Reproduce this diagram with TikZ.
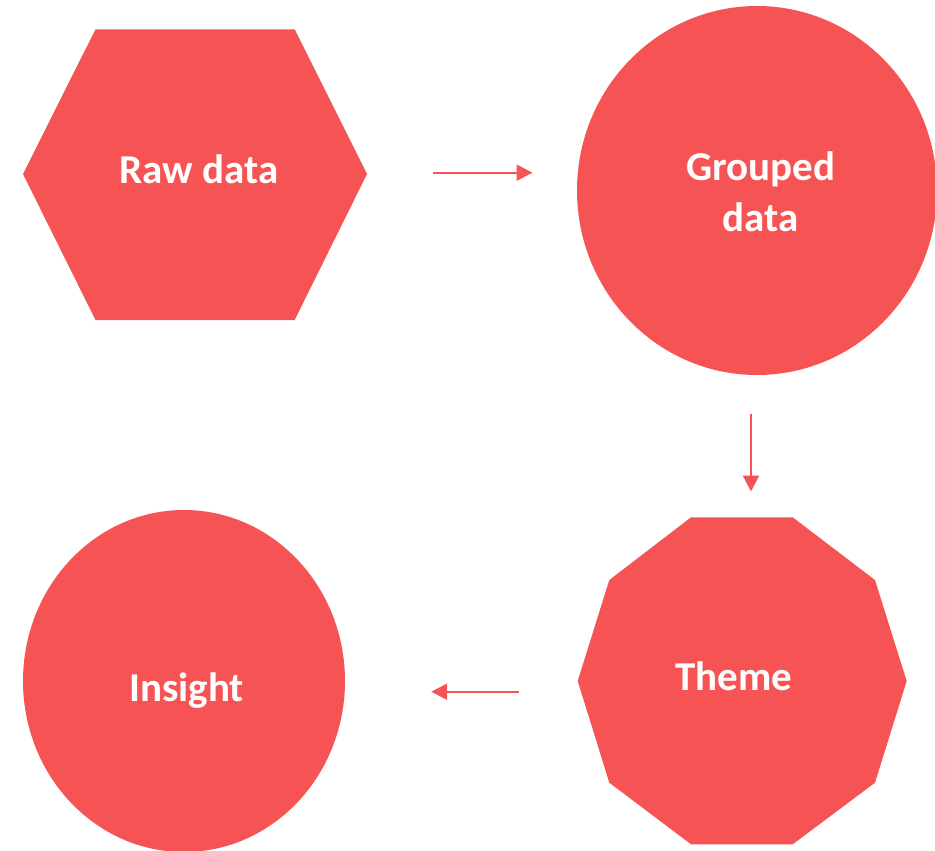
\documentclass[tikz,border=0pt]{standalone}
\usepackage{fontspec}
\setmainfont{Carlito}
\usetikzlibrary{arrows.meta,shapes.geometric}

\definecolor{coral}{HTML}{F65454}

\tikzset{
  shapefill/.style={fill=coral, draw=none},
  frame/.style={rectangle, draw=none, inner sep=0pt},
  blob/.style={ellipse, fill=coral, draw=none, inner sep=0pt},
  lbl/.style={text=white, font=\fontsize{41}{51.5}\selectfont\bfseries, inner sep=0pt, align=center},
  flow/.style={draw=coral, line width=2.3pt, -{Triangle[length=16pt,width=16pt]}},
}

\begin{document}
\begin{tikzpicture}[x=1pt, y=-1pt]
  \useasboundingbox (0,0) rectangle (935,851);

  % hexagon
  \fill[shapefill] (23,174) -- (95.5,29.3) -- (294.7,29.3) -- (367,174)
        -- (294.7,320) -- (95.5,320) -- cycle;
  \node[frame, minimum width=344pt, minimum height=291pt] (raw) at (195,174.5) {};
  \node[lbl, anchor=base] (rawt) at (199,183.3) {Raw data};

  % circle
  \node[blob, minimum width=360pt, minimum height=369pt] (grp) at (757,190.5) {};
  \node[lbl, anchor=base] (grpt) at (760.8,231.7) {Grouped\\data};

  % decagon
  \fill[shapefill] (691,517.3) -- (792.7,517.3) -- (875,580) -- (906.7,681)
        -- (875,782.7) -- (792.7,844.3) -- (691,844.3) -- (609.3,782.7)
        -- (577.7,681) -- (609.3,580) -- cycle;
  \node[frame, minimum width=329pt, minimum height=327pt] (theme) at (742.2,680.8) {};
  \node[lbl, anchor=base] (themet) at (733.8,690) {Theme};

  % ellipse
  \node[blob, minimum width=322pt, minimum height=342pt] (ins) at (184,681) {};
  \node[lbl, anchor=base] (inst) at (186.7,701.7) {Insight};

  % connectors
  \draw[flow, shorten <=65.7pt, shorten >=44.3pt]
    ([yshift=1.8pt]raw.east) -- ([yshift=1.8pt]raw.east -| grp.west);
  \draw[flow, shorten <=39pt, shorten >=25.6pt]
    ([xshift=-6pt]grp.south) -- ([xshift=-6pt]grp.south |- theme.north);
  \draw[flow, shorten <=58.7pt, shorten >=86pt]
    ([yshift=-10.9pt]theme.west) -- ([yshift=-10.9pt]theme.west -| ins.east);
\end{tikzpicture}
\end{document}
